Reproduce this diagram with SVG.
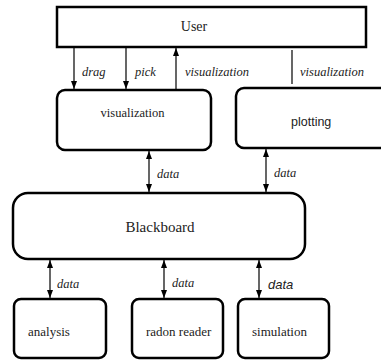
<svg xmlns="http://www.w3.org/2000/svg" width="381" height="360" viewBox="0 0 381 360">
<style>
.box{fill:#fff;stroke:#000;stroke-width:2.5}
.con{stroke:#000;stroke-width:1.2;fill:none}
.t{fill:#222}
.lab{font-style:italic;font-size:12.5px;fill:#222}
.s{fill:#222}
</style>
<defs>
<marker id="ah" markerUnits="userSpaceOnUse" markerWidth="8" markerHeight="6" refX="8" refY="3" orient="auto-start-reverse">
<path d="M0,0 L8,3 L0,6 z" fill="#000"/>
</marker>
</defs>
<rect width="381" height="360" fill="#fff"/>
<g id="connectors">
<line class="con" x1="74" y1="48" x2="74" y2="89" marker-end="url(#ah)"/>
<line class="con" x1="126" y1="48" x2="126" y2="89" marker-end="url(#ah)"/>
<line class="con" x1="176" y1="90" x2="176" y2="48" marker-end="url(#ah)"/>
<line class="con" x1="292" y1="50" x2="292" y2="84"/>
<line class="con" x1="149" y1="151" x2="149" y2="192" marker-start="url(#ah)" marker-end="url(#ah)"/>
<line class="con" x1="266" y1="149" x2="266" y2="192" marker-start="url(#ah)" marker-end="url(#ah)"/>
<line class="con" x1="50" y1="260" x2="50" y2="298" marker-start="url(#ah)" marker-end="url(#ah)"/>
<line class="con" x1="164" y1="260" x2="164" y2="298" marker-start="url(#ah)" marker-end="url(#ah)"/>
<line class="con" x1="259" y1="260" x2="259" y2="298" marker-start="url(#ah)" marker-end="url(#ah)"/>
<g font-family="Liberation Serif, serif">
<text class="lab" x="82" y="76">drag</text>
<text class="lab" x="135" y="76">pick</text>
<text class="lab" x="185" y="76">visualization</text>
<text class="lab" x="300" y="76">visualization</text>
<text class="lab" x="157" y="178">data</text>
<text class="lab" x="274" y="177">data</text>
<text class="lab" x="57" y="288">data</text>
<text class="lab" x="172" y="287">data</text>
</g>
<text class="s" x="268" y="289" font-family="Liberation Sans, sans-serif" font-size="13" font-style="italic">data</text>
</g>
<g id="user">
<rect class="box" x="57" y="7" width="309" height="40"/>
<text class="t" x="194" y="31" font-family="Liberation Serif, serif" font-size="14" text-anchor="middle">User</text>
</g>
<g id="visualization">
<rect class="box" x="57" y="90" width="154" height="60" rx="8"/>
<text class="t" x="132.5" y="117" font-family="Liberation Serif, serif" font-size="12.5" text-anchor="middle">visualization</text>
</g>
<g id="plotting">
<rect class="box" x="236" y="88" width="170" height="60" rx="8"/>
<text class="s" x="291" y="126" font-family="Liberation Sans, sans-serif" font-size="12.5">plotting</text>
</g>
<g id="blackboard">
<rect class="box" x="13" y="193" width="292" height="66" rx="15"/>
<text class="t" x="160" y="232" font-family="Liberation Serif, serif" font-size="15" text-anchor="middle">Blackboard</text>
</g>
<g id="analysis">
<rect class="box" x="14" y="299" width="92" height="59" rx="7"/>
<text class="t" x="28" y="336" font-family="Liberation Serif, serif" font-size="13">analysis</text>
</g>
<g id="radon">
<rect class="box" x="132" y="299" width="91" height="59" rx="7"/>
<text class="t" x="146" y="336" font-family="Liberation Serif, serif" font-size="13">radon reader</text>
</g>
<g id="simulation">
<rect class="box" x="238" y="299" width="91" height="59" rx="7"/>
<text class="t" x="252" y="336" font-family="Liberation Serif, serif" font-size="13">simulation</text>
</g>
</svg>
